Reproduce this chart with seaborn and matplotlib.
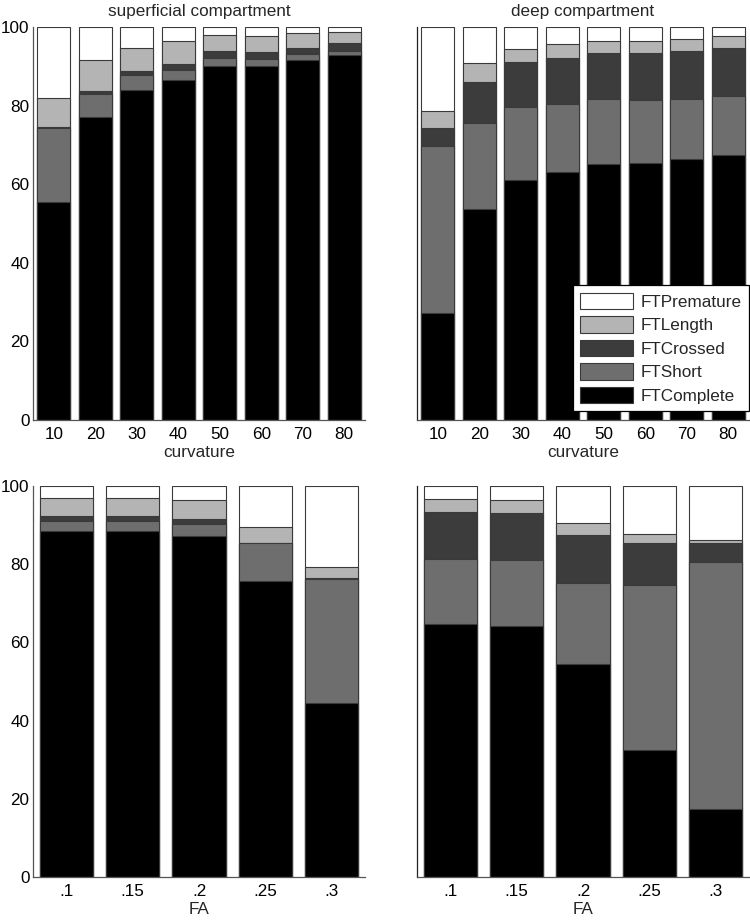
import matplotlib
matplotlib.use("Agg")
import matplotlib.pyplot as plt
import seaborn as sns
import numpy as np
from matplotlib.patches import Patch

# categories
curv_labels = ["10", "20", "30", "40", "50", "60", "70", "80"]
fa_labels = [".1", ".15", ".2", ".25", ".3"]
layers = ["FTComplete", "FTShort", "FTCrossed", "FTLength", "FTPremature"]

# superficial compartment, curvature (segment heights, %)
sup_curv = {
    "FTComplete":  [55.5, 77.2, 84.0, 86.4, 90.2, 90.1, 91.7, 92.8],
    "FTShort":     [18.7, 5.8, 3.7, 2.7, 2.0, 1.8, 1.4, 1.2],
    "FTCrossed":   [0.3, 0.7, 1.0, 1.4, 1.6, 1.7, 1.6, 1.9],
    "FTLength":    [7.5, 8.0, 5.9, 5.9, 4.1, 4.1, 3.7, 2.8],
    "FTPremature": [18.0, 8.3, 5.4, 3.6, 2.1, 2.3, 1.6, 1.3],
}

# deep compartment, curvature
deep_curv = {
    "FTComplete":  [27.3, 53.6, 61.1, 63.1, 65.1, 65.5, 66.5, 67.5],
    "FTShort":     [42.4, 21.9, 18.6, 17.4, 16.5, 15.8, 15.1, 14.9],
    "FTCrossed":   [4.5, 10.5, 11.5, 11.7, 11.9, 12.2, 12.2, 12.2],
    "FTLength":    [4.5, 4.8, 3.3, 3.6, 3.0, 3.0, 3.1, 3.1],
    "FTPremature": [21.3, 9.2, 5.5, 4.2, 3.5, 3.5, 3.1, 2.3],
}

# superficial compartment, FA
sup_fa = {
    "FTComplete":  [88.4, 88.6, 87.2, 75.6, 44.5],
    "FTShort":     [2.6, 2.4, 3.0, 9.7, 31.8],
    "FTCrossed":   [1.3, 1.3, 1.3, 0.2, 0.1],
    "FTLength":    [4.7, 4.7, 4.8, 3.9, 2.9],
    "FTPremature": [3.0, 3.0, 3.7, 10.6, 20.7],
}

# deep compartment, FA
deep_fa = {
    "FTComplete":  [64.6, 64.2, 54.6, 32.6, 17.5],
    "FTShort":     [16.8, 17.0, 20.7, 42.2, 63.1],
    "FTCrossed":   [12.0, 11.8, 12.1, 10.5, 4.7],
    "FTLength":    [3.4, 3.4, 3.2, 2.5, 1.0],
    "FTPremature": [3.2, 3.6, 9.4, 12.2, 13.7],
}

colors = {
    "FTComplete": "#000000",
    "FTShort": "#6e6e6e",
    "FTCrossed": "#3c3c3c",
    "FTLength": "#b4b4b4",
    "FTPremature": "#ffffff",
}
EDGE = "#3a3a3a"
FS = 12.3

sns.set_theme(style="white")
plt.rcParams["font.family"] = ["Liberation Sans", "DejaVu Sans"]
plt.rcParams["font.size"] = FS

fig = plt.figure(figsize=(7.5, 9.21), dpi=100)
W, H = 750, 921


def add_axes(x0, y0, x1, y1):
    return fig.add_axes([x0 / W, 1 - y1 / H, (x1 - x0) / W, (y1 - y0) / H])


def stacked(ax, data, labels):
    cum = np.cumsum([data[k] for k in layers], axis=0)
    # draw from the top layer down so lower segments cover upper ones
    for i in range(len(layers) - 1, -1, -1):
        sns.barplot(x=labels, y=cum[i], order=labels, color=colors[layers[i]],
                    saturation=1, width=0.8, edgecolor=EDGE, linewidth=0.8, ax=ax)
    ax.set_ylim(0, 100)
    ax.set_xlim(-0.5, len(labels) - 0.5)
    ax.set_yticks([0, 20, 40, 60, 80, 100])
    for s in ["top", "right"]:
        ax.spines[s].set_visible(False)
    for s in ["left", "bottom"]:
        ax.spines[s].set_color("#555555")
        ax.spines[s].set_linewidth(0.9)
    ax.tick_params(axis="both", direction="in", length=3, labelsize=FS,
                   colors="#555555", labelcolor="black", pad=5)
    ax.tick_params(axis="y", pad=2.5)


ax1 = add_axes(33, 27, 365, 420)
ax2 = add_axes(417, 27, 749, 420)
ax3 = add_axes(33, 486, 365, 877)
ax4 = add_axes(417, 486, 749, 877)

stacked(ax1, sup_curv, curv_labels)
stacked(ax2, deep_curv, curv_labels)
stacked(ax3, sup_fa, fa_labels)
stacked(ax4, deep_fa, fa_labels)

ax1.set_title("superficial compartment", fontsize=FS, pad=8)
ax2.set_title("deep compartment", fontsize=FS, pad=8)
for ax in (ax1, ax2):
    ax.set_xlabel("curvature", fontsize=FS, labelpad=2)
for ax in (ax3, ax4):
    ax.set_xlabel("FA", fontsize=FS, labelpad=2)
for ax in (ax1, ax2, ax3, ax4):
    ax.set_ylabel("")
for ax in (ax2, ax4):
    ax.set_yticklabels([])
    ax.spines["left"].set_color("#222222")

handles = [Patch(facecolor=colors[k], edgecolor=EDGE, linewidth=0.8, label=k)
           for k in layers[::-1]]
leg = ax2.legend(handles=handles, loc="lower right", bbox_to_anchor=(1.0, 0.022),
                 fontsize=FS, frameon=True, fancybox=False, handlelength=3.1,
                 handleheight=1.1, borderpad=0.45, labelspacing=0.38,
                 handletextpad=0.4, borderaxespad=0)
leg.get_frame().set_edgecolor("black")
leg.get_frame().set_linewidth(0.9)
leg.get_frame().set_alpha(1)

fig.savefig("out.png", dpi=100)
